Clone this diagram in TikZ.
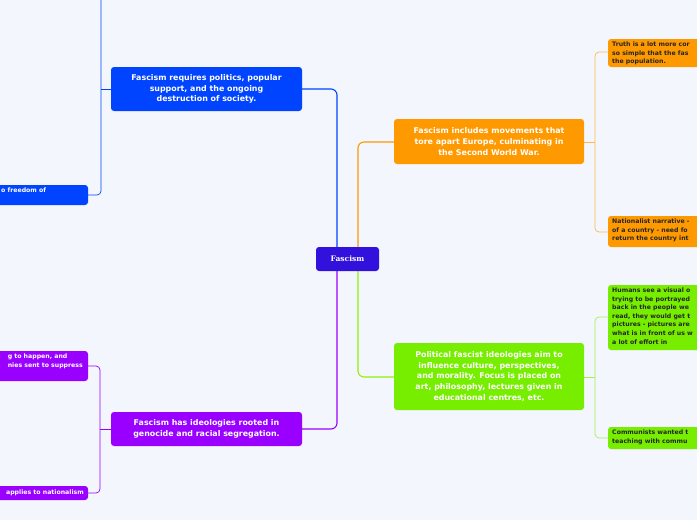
\documentclass[tikz,border=0pt]{standalone}
\usepackage{fontspec}
\setmainfont{DejaVu Sans}
\newfontfamily\serifb{DejaVu Serif}
\definecolor{bg}{HTML}{F3F6FD}
\definecolor{cblue}{HTML}{0044FF}
\definecolor{corange}{HTML}{FF9900}
\definecolor{cgreen}{HTML}{77EE00}
\definecolor{cpurple}{HTML}{9900FF}
\definecolor{croot}{HTML}{3311DD}
\begin{document}
\begin{tikzpicture}[x=1pt,y=-1pt,
  mainbox/.style={rounded corners=3pt,text=white,font=\bfseries\fontsize{7.9}{10.8}\selectfont,align=center,inner sep=0pt},
  leafbox/.style={rounded corners=3pt,font=\bfseries\fontsize{6.2}{8.6}\selectfont,inner sep=0pt},
  conn/.style={line width=1.1pt,rounded corners=6pt},
  subconn/.style={line width=0.7pt,rounded corners=4pt}]
\fill[bg] (0,0) rectangle (697,520);
\clip (0,0) rectangle (697,520);
% connectors
\draw[conn,cblue] (302,89) -- (337,89) -- (337,247);
\draw[conn,corange] (394,142) -- (358,142) -- (358,247);
\draw[conn,cgreen!80!yellow] (394,377) -- (358,377) -- (358,271);
\draw[conn,cpurple] (302,429) -- (337,429) -- (337,271);
\draw[subconn,cblue] (111,89) -- (101,89);
\draw[subconn,cblue] (101,-20) -- (101,195) -- (88,195);
\draw[subconn,corange!70] (584,142) -- (595,142);
\draw[subconn,corange!70] (608,52) -- (595,52) -- (595,232) -- (608,232);
\draw[subconn,cgreen!70] (584,377) -- (595,377);
\draw[subconn,cgreen!70] (608,317) -- (595,317) -- (595,438) -- (608,438);
\draw[subconn,cpurple] (111,429) -- (100,429);
\draw[subconn,cpurple] (88,366) -- (100,366) -- (100,493) -- (88,493);
% root
\fill[croot,rounded corners=3pt] (316,247) rectangle (379,271);
\node[text=white,font=\serifb\bfseries\fontsize{7.5}{9}\selectfont] (root) at (347.5,259) {Fascism};
% main nodes
\fill[cblue,rounded corners=3pt] (111,67) rectangle (302,111);
\node[mainbox] (blue) at (206.5,89) {Fascism requires politics, popular\\support, and the ongoing\\destruction of society.};
\fill[corange,rounded corners=3pt] (394,119) rectangle (584,164);
\node[mainbox] (orange) at (489,141.5) {Fascism includes movements that\\tore apart Europe, culminating in\\the Second World War.};
\fill[cgreen,rounded corners=3pt] (394,343) rectangle (584,410);
\node[mainbox] (green) at (489,376.5) {Political fascist ideologies aim to\\influence culture, perspectives,\\and morality. Focus is placed on\\art, philosophy, lectures given in\\educational centres, etc.};
\fill[cpurple,rounded corners=3pt] (111,412) rectangle (302,446);
\node[mainbox] (purple) at (206.5,429) {Fascism has ideologies rooted in\\genocide and racial segregation.};
% right leaves
\fill[corange,rounded corners=3pt] (608,39) rectangle (760,67);
\node[leafbox,anchor=north west,align=left,text=black!85] (o1) at (612,41.5) {Truth is a lot more cor\\so simple that the fas\\the population.};
\fill[corange,rounded corners=3pt] (608,216) rectangle (760,247);
\node[leafbox,anchor=north west,align=left,text=black!85] (o2) at (612,218.5) {Nationalist narrative -\\of a country - need fo\\return the country int};
\fill[cgreen,rounded corners=3pt] (608,285) rectangle (760,350);
\node[leafbox,anchor=north west,align=left,text=black!85] (g1) at (612,287.5) {Humans see a visual o\\trying to be portrayed\\back in the people we\\read, they would get t\\pictures - pictures are\\what is in front of us w\\a lot of effort in};
\fill[cgreen,rounded corners=3pt] (608,427) rectangle (760,449);
\node[leafbox,anchor=north west,align=left,text=black!85] (g2) at (612,429.5) {Communists wanted t\\teaching with commu};
% left leaves
\fill[cblue,rounded corners=3pt] (-60,185) rectangle (88,205);
\node[leafbox,anchor=west,align=left,text=white] (b1) at (1,190) {o freedom of};
\fill[cpurple,rounded corners=3pt] (-60,351) rectangle (88,381);
\node[leafbox,anchor=north east,align=left,text=white] (p1) at (83,353.5) {g to happen, and\\nies sent to suppress};
\fill[cpurple,rounded corners=3pt] (-60,486) rectangle (88,500);
\node[leafbox,anchor=east,align=right,text=white] (p2) at (84,493) {applies to nationalism};
\end{tikzpicture}
\end{document}
